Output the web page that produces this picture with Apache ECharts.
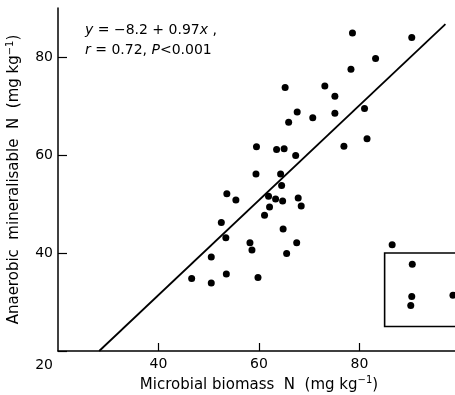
<!DOCTYPE html>
<html>
<head>
<meta charset="utf-8">
<script src="https://cdn.jsdelivr.net/npm/echarts@6/dist/echarts.min.js"></script>
<style>
  html, body { margin: 0; padding: 0; background: #fff; }
  #chart { width: 455px; height: 395px; }
</style>
</head>
<body>
<div id="chart"></div>
<script>
// microbial biomass N (x) against anaerobic mineralisable N (y), mg kg-1
const biomassN = [
  78.6, 90.4, 83.2, 78.3, 65.2, 73.1, 75.1, 67.6, 70.7, 75.1,
  65.9, 81.0, 81.5, 59.5, 63.5, 65.0, 67.3, 76.9, 59.4, 64.3,
  64.5, 53.6, 55.4, 61.9, 63.3, 64.7, 67.8, 68.4, 62.1, 61.1,
  64.8, 52.5, 53.4, 58.2, 58.6, 50.5, 46.6, 50.5, 53.5, 59.8,
  67.5, 65.5, 86.5, 90.5, 90.4, 90.2, 98.6
]
const mineralN = [
  84.9, 84.0, 79.7, 77.5, 73.8, 74.1, 72.0, 68.8, 67.6, 68.5,
  66.7, 69.5, 63.3, 61.7, 61.1, 61.3, 59.9, 61.8, 56.1, 56.1,
  53.8, 52.1, 50.8, 51.6, 51.0, 50.6, 51.2, 49.6, 49.4, 47.7,
  44.9, 46.2, 43.1, 42.1, 40.6, 39.2, 34.8, 33.9, 35.7, 35.0,
  42.1, 39.9, 41.7, 37.7, 31.1, 29.3, 31.4
]
// fitted line y = -8.2 + 0.97x, end points as drawn
const fitX = [28.2, 97.1]
const fitY = [20, 86.7]
// boxed group of points (right side runs off the plot)
const boxX = [85, 104]
const boxY = [25, 40]

const xTicks = [40, 60, 80]
const yTicks = [20, 40, 60, 80]

const font = 'DejaVu Sans, Verdana, sans-serif'

const points = biomassN.map((x, i) => [x, mineralN[i]])
const fitLine = fitX.map((x, i) => [x, fitY[i]])

const option = {
  animation: false,
  grid: { left: 58, right: -5, top: 8, bottom: 44, outerBoundsMode: 'none', containLabel: false },
  xAxis: {
    type: 'value',
    min: 20,
    max: 100,
    interval: 20,
    splitLine: { show: false },
    axisLine: { lineStyle: { color: '#000', width: 1.5 } },
    axisTick: { inside: true, length: 8, customValues: xTicks, lineStyle: { color: '#000', width: 1.2 } },
    axisLabel: { customValues: xTicks, color: '#000', fontSize: 14, fontFamily: font, margin: 6 },
    name: 'Microbial biomass  N  (mg kg{sup|−1})',
    nameLocation: 'middle',
    nameGap: 24,
    nameTextStyle: {
      color: '#000', fontSize: 15, fontFamily: font,
      rich: { sup: { fontSize: 10, fontFamily: font, color: '#000', padding: [0, 0, 9, 0] } }
    }
  },
  yAxis: {
    type: 'value',
    min: 20,
    max: 90,
    interval: 20,
    splitLine: { show: false },
    axisLine: { lineStyle: { color: '#000', width: 1.5 } },
    axisTick: { inside: true, length: 9, customValues: yTicks, lineStyle: { color: '#000', width: 1.2 } },
    axisLabel: {
      customValues: yTicks,
      color: '#000', fontSize: 14, fontFamily: font, margin: 5,
      formatter: v => (v === 20 ? '{low|20}' : String(v)),
      rich: { low: { fontSize: 14, fontFamily: font, color: '#000', padding: [28, 0, 0, 0] } }
    },
    name: 'Anaerobic  mineralisable  N  (mg kg{sup|−1})',
    nameLocation: 'middle',
    nameGap: 34,
    nameTextStyle: {
      color: '#000', fontSize: 15, fontFamily: font,
      rich: { sup: { fontSize: 10, fontFamily: font, color: '#000', padding: [0, 0, 9, 0] } }
    }
  },
  series: [
    {
      type: 'scatter',
      data: points,
      symbolSize: 7,
      itemStyle: { color: '#000', opacity: 1 },
      markArea: {
        silent: true,
        itemStyle: { color: 'rgba(0,0,0,0)', borderColor: '#000', borderWidth: 1.6 },
        data: [[{ coord: [boxX[0], boxY[0]] }, { coord: [boxX[1], boxY[1]] }]]
      }
    },
    {
      type: 'line',
      data: fitLine,
      symbol: 'none',
      lineStyle: { color: '#000', width: 1.8 }
    }
  ],
  graphic: [
    {
      type: 'text',
      left: 85,
      top: 20,
      style: {
        text: '{i|y} = −8.2 + 0.97{i|x} ,\n{i|r} = 0.72, {i|P}<0.001',
        font: '14px ' + font,
        fill: '#000',
        lineHeight: 20,
        rich: { i: { fontStyle: 'italic', fontSize: 14, fontFamily: font, fill: '#000' } }
      }
    }
  ]
}

echarts.init(document.getElementById('chart')).setOption(option)
</script>
</body>
</html>
